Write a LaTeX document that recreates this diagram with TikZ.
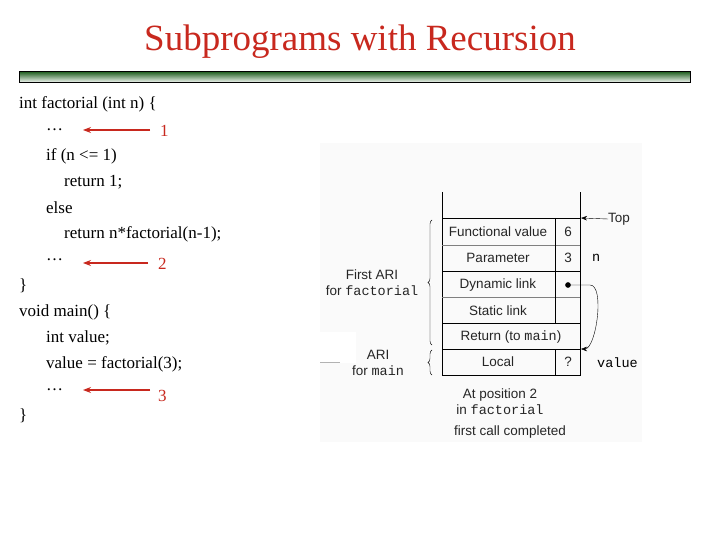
\documentclass[tikz,border=0pt]{standalone}
\usepackage{fontspec}
\setmainfont{Liberation Serif}
\setsansfont{Liberation Sans}
\setmonofont{Liberation Mono}
\usetikzlibrary{arrows.meta,decorations.pathreplacing}
\definecolor{ttl}{RGB}{200,40,30}
\definecolor{bar}{RGB}{40,100,40}
\begin{document}
\begin{tikzpicture}[x=1pt,y=-1pt,
  code/.style={anchor=west,inner sep=0,font=\fontsize{17}{17}\selectfont},
  redarr/.style={draw=ttl,line width=1.2pt,-{Stealth[length=8pt,width=6pt]}},
  cell/.style={font=\sffamily\fontsize{13.5}{13.5}\selectfont,inner sep=0,text=black!85},
  lbl/.style={font=\sffamily\fontsize{13.5}{16}\selectfont,inner sep=0,align=center,text=black!85},
  tt/.style={font=\ttfamily\fontsize{13.5}{13.5}\selectfont,inner sep=0}]
\useasboundingbox (0,0) rectangle (720,540);
\fill[white] (0,0) rectangle (720,540);
\node[text=ttl,font=\fontsize{37}{37}\selectfont] (title) at (360,42) {Subprograms with Recursion};
\shade[top color=bar,bottom color=white] (19,72) rectangle (690,83);
\draw[line width=1pt] (19,72) rectangle (690,83);
% code
\node[code] (c1) at (19,104) {int factorial (int n) \{};
\node[code] (c2) at (46,130) {…};
\node[code] (c3) at (46,156) {if (n <= 1)};
\node[code] (c4) at (64,182) {return 1;};
\node[code] (c5) at (46,208) {else};
\node[code] (c6) at (64,234) {return n*factorial(n-1);};
\node[code] (c7) at (46,260) {…};
\node[code] (c8) at (19,286) {\}};
\node[code] (c9) at (19,312) {void main() \{};
\node[code] (c10) at (46,338) {int value;};
\node[code] (c11) at (46,364) {value = factorial(3);};
\node[code] (c12) at (46,390) {…};
\node[code] (c13) at (19,416) {\}};
\node[code,text=ttl] (n1) at (160,131) {1};
\node[code,text=ttl] (n2) at (158,264) {2};
\node[code,text=ttl] (n3) at (158,396) {3};
\draw[redarr] (150,130) -- (83,130);
\draw[redarr] (148,263) -- (83,263);
\draw[redarr] (150,390) -- (83,390);
% figure
\fill[black!2] (320,143) rectangle (642,442);
\fill[white] (318,332) rectangle (356,363);
\draw[gray!60] (320,362) -- (340,362);
\draw[line width=0.8pt] (442,192) -- (442,375) -- (580,375) -- (580,192);
\foreach \y in {218,271,323,349} \draw[line width=0.8pt] (442,\y) -- (580,\y);
\foreach \y in {245,297} \draw[gray] (442,\y) -- (580,\y);
\draw[line width=0.8pt] (555,218) -- (555,323) (555,349) -- (555,375);
\node[cell] (fv) at (498,232) {Functional value};
\node[cell] (pa) at (498,258) {Parameter};
\node[cell] (dl) at (498,285) {Dynamic link};
\node[cell] (sl) at (498,311) {Static link};
\node[cell] (rt) at (511,337) {Return (to \texttt{main})};
\node[cell] (lo) at (498,362) {Local};
\node[cell] (v6) at (568,232) {6};
\node[cell] (v3) at (568,258) {3};
\node[circle,fill,inner sep=2pt] (dot) at (568,285) {};
\node[cell] (vq) at (568,362) {?};
\node[cell,anchor=west] (top) at (608,219) {Top};
\node[tt,anchor=west] (nn) at (592,258) {n};
\node[tt,anchor=west] (val) at (597,363) {value};
\coordinate (topt) at (581,218);
\coordinate (lot) at (581,349);
\draw[-{Stealth[length=6pt]}] (top.west) -- (topt);
\draw[-{Stealth[length=6pt]}] (dot.center) -- (590,285) to[out=0,in=0,looseness=0.6] (lot);
\draw[decorate,decoration={brace,amplitude=4pt}] (432,345) -- (432,220);
\draw[decorate,decoration={brace,amplitude=4pt}] (432,375) -- (432,350);
\node[lbl] (fa) at (372,283) {First ARI\\for \texttt{factorial}};
\node[lbl] (am) at (378,363) {ARI\\for \texttt{main}};
\node[lbl] (pos) at (500,402) {At position 2\\in \texttt{factorial}};
\node[cell] (fc) at (510,432) {first call completed};
\end{tikzpicture}
\end{document}
